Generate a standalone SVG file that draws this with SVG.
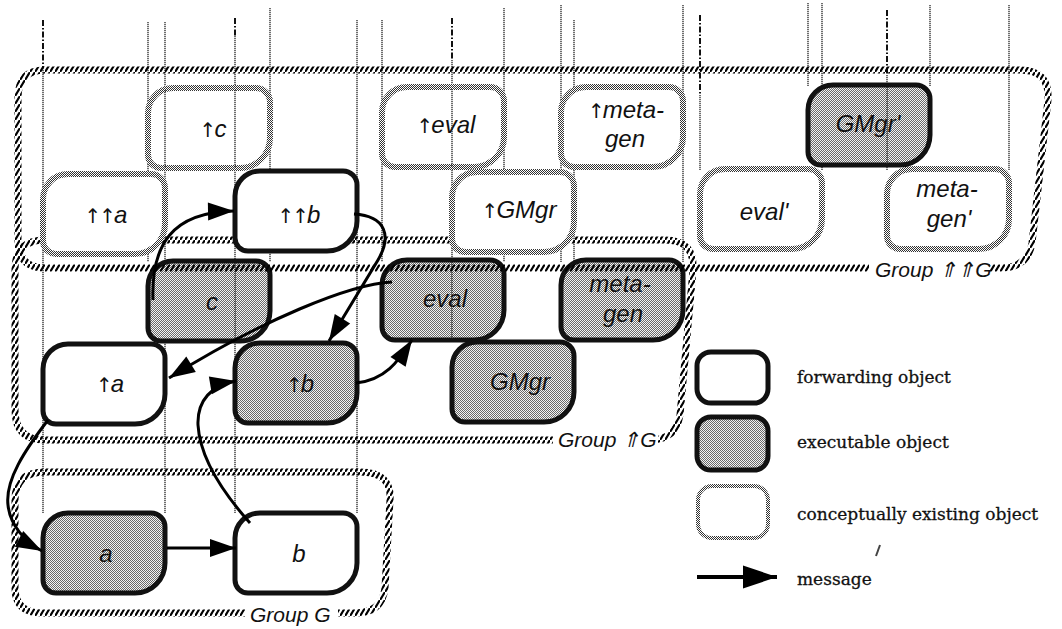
<svg xmlns="http://www.w3.org/2000/svg" xmlns:xlink="http://www.w3.org/1999/xlink" width="1062" height="629" viewBox="0 0 1062 629">
<style>
.life{fill:none;stroke:#222;stroke-width:1.3;stroke-dasharray:1.2 0.8}
.lifetop{fill:none;stroke:#111;stroke-width:2;stroke-dasharray:6 2 1.5 2}
.fwd{fill:#fff;stroke:#111;stroke-width:5}
.exe{fill:url(#dots);stroke:#111;stroke-width:5}
.con{fill:#fff;stroke:url(#cdots);stroke-width:6}
.grp{fill:none;stroke:url(#hatch);stroke-width:7}
.lbl{font-family:"Liberation Sans",Arial,sans-serif;font-style:italic;font-size:24px;text-anchor:middle;fill:#111}
.arw{font-family:"DejaVu Sans",sans-serif;font-style:normal;font-size:20px;letter-spacing:-2px}
.glbl{font-family:"Liberation Sans",Arial,sans-serif;font-style:italic;font-size:21px;fill:#111}
.leg{font-family:"DejaVu Serif","Liberation Serif",serif;font-size:17px;fill:#111;stroke:#111;stroke-width:0.3}
.msg{fill:none;stroke:#000;stroke-width:3;marker-end:url(#arr)}
</style>
<defs>
<pattern id="dots" width="2" height="2" patternUnits="userSpaceOnUse"><rect width="2" height="2" fill="#f4f4f4"/><rect width="1" height="1" fill="#6a6a6a"/><rect x="1" y="1" width="1" height="1" fill="#6a6a6a"/></pattern>
<pattern id="cdots" width="2" height="2" patternUnits="userSpaceOnUse"><rect width="2" height="2" fill="#fff"/><rect width="1" height="1" fill="#333"/><rect x="1" y="1" width="1" height="1" fill="#333"/></pattern>
<pattern id="hatch" width="5" height="8" patternUnits="userSpaceOnUse"><path d="M-1,9.6 L6,-1.6" stroke="#000" stroke-width="2.2"/></pattern>
<path id="nshape" d="M25,0 H108 A14,14 0 0 1 122,14 V50 A30,30 0 0 1 92,80 H13 A13,13 0 0 1 0,67 V25 A25,25 0 0 1 25,0 Z"/>
<marker id="arr" markerUnits="userSpaceOnUse" markerWidth="28" markerHeight="20" refX="26" refY="9" orient="auto" overflow="visible"><path d="M0,0 L26,9 L0,18 Z" fill="#000"/></marker>
<marker id="arrbig" markerUnits="userSpaceOnUse" markerWidth="36" markerHeight="24" refX="34" refY="11.5" orient="auto" overflow="visible"><path d="M0,0 L34,11.5 L0,23 Z" fill="#000"/></marker>
</defs>

<g id="lifelines">
<path class="lifetop" d="M43,20 V68"/>
<path class="life" d="M43,68 V513 M165,22 V513"/>
<path class="life" d="M148,22 V262 M270,8 V262"/>
<path class="lifetop" d="M235,18 V36"/>
<path class="life" d="M235,36 V513 M357,20 V513"/>
<path class="life" d="M382,20 V262 M504,8 V262"/>
<path class="lifetop" d="M452,18 V60"/>
<path class="life" d="M452,60 V342 M574,20 V342"/>
<path class="life" d="M561,5 V262 M683,5 V262"/>
<path class="lifetop" d="M700,15 V95"/>
<path class="life" d="M700,95 V170 M822,3 V170"/>
<path class="life" d="M808,3 V86 M930,5 V86"/>
<path class="lifetop" d="M887,10 V75"/>
<path class="life" d="M887,75 V170 M1009,5 V170"/>
</g>

<g id="group-upG">
<path class="grp" d="M45,240 H665 Q695,240 693,270 L680,415 Q676,440 650,440 H45 Q15,440 15,410 V270 Q15,240 45,240 Z"/>
</g>
<g id="group-G">
<path class="grp" d="M45,472 H360 Q392,472 390,500 L385,588 Q382,613 355,613 H42 Q15,613 15,588 V500 Q15,472 45,472 Z"/>
</g>

<g id="node-uua"><use href="#nshape" x="43" y="174" class="con"/><text class="lbl" x="106" y="223"><tspan class="arw">↑↑</tspan>a</text></g>
<g id="node-uc"><use href="#nshape" x="148" y="88" class="con"/><text class="lbl" x="213" y="137"><tspan class="arw">↑</tspan>c</text></g>
<g id="node-ueval"><use href="#nshape" x="382" y="87" class="con"/><text class="lbl" x="446" y="133"><tspan class="arw">↑</tspan>eval</text></g>
<g id="node-umetagen"><use href="#nshape" x="561" y="87" class="con"/><text class="lbl" x="626" y="118"><tspan class="arw">↑</tspan>meta-</text><text class="lbl" x="625" y="147">gen</text></g>
<g id="node-uGMgr"><use href="#nshape" x="452" y="172" class="con"/><text class="lbl" x="519" y="218"><tspan class="arw">↑</tspan>GMgr</text></g>
<g id="node-evalp"><use href="#nshape" x="700" y="169" class="con"/><text class="lbl" x="764" y="220">eval'</text></g>
<g id="node-metagenp"><use href="#nshape" x="887" y="169" class="con"/><text class="lbl" x="947" y="197">meta-</text><text class="lbl" x="949" y="227">gen'</text></g>
<g id="node-GMgrp"><use href="#nshape" x="808" y="85" class="exe"/><text class="lbl" x="868" y="132">GMgr'</text></g>
<g id="node-uub"><use href="#nshape" x="235" y="171" class="fwd"/><text class="lbl" x="299" y="223"><tspan class="arw">↑↑</tspan>b</text></g>
<g id="node-c"><use href="#nshape" x="148" y="261" class="exe"/><text class="lbl" x="212" y="310">c</text></g>
<g id="node-eval"><use href="#nshape" x="382" y="260" class="exe"/><text class="lbl" x="445" y="307">eval</text></g>
<g id="node-metagen"><use href="#nshape" x="561" y="260" class="exe"/><text class="lbl" x="620" y="292">meta-</text><text class="lbl" x="623" y="322">gen</text></g>
<g id="node-GMgr"><use href="#nshape" x="452" y="342" class="exe"/><text class="lbl" x="520" y="390">GMgr</text></g>
<g id="node-ua"><use href="#nshape" x="43" y="344" class="fwd"/><text class="lbl" x="110" y="392"><tspan class="arw">↑</tspan>a</text></g>
<g id="node-ub"><use href="#nshape" x="235" y="343" class="exe"/><text class="lbl" x="300" y="392"><tspan class="arw">↑</tspan>b</text></g>
<g id="node-a"><use href="#nshape" x="43" y="513" class="exe"/><text class="lbl" x="106" y="562">a</text></g>
<g id="node-b"><use href="#nshape" x="235" y="513" class="fwd"/><text class="lbl" x="299" y="562">b</text></g>

<g id="lifeline-overlays">
<path class="life" d="M235,90 V168 M235,263 V341 M165,90 V168"/>
<path class="life" d="M452,89 V167 M452,262 V340"/>
<path class="life" d="M887,87 V165"/>
</g>

<g id="group-uuG">
<path class="grp" d="M45,70 H1020 Q1050,70 1048,100 L1032,243 Q1028,268 1000,268 H45 Q18,268 18,240 V98 Q18,70 45,70 Z"/>
</g>

<g id="group-labels">
<rect x="869" y="258" width="120" height="24" fill="#fff"/>
<text class="glbl" x="875" y="277">Group ⇑⇑G</text>
<rect x="553" y="428" width="105" height="24" fill="#fff"/>
<text class="glbl" x="558" y="447">Group ⇑G</text>
<rect x="245" y="602" width="93" height="24" fill="#fff"/>
<text class="glbl" x="250" y="622">Group G</text>
</g>

<g id="connectors">
<path class="msg" d="M153,300 C151,245 172,212 234,211"/>
<path class="msg" d="M354,214 C386,216 392,236 378,260 L329,341"/>
<path class="msg" d="M392,282 C350,284 262,320 169,378"/>
<path class="msg" d="M356,383 C385,380 398,362 412,340"/>
<path class="msg" d="M48,420 C25,450 5,480 8,505 C10,525 25,542 42,551"/>
<path class="msg" d="M250,523 C225,495 200,460 198,425 C197,400 212,385 236,381"/>
<path class="msg" d="M167,548 L236,548"/>
</g>

<g id="legend">
<rect x="697" y="352" width="71" height="51" rx="14" class="fwd"/>
<text class="leg" x="797" y="383">forwarding object</text>
<rect x="697" y="417" width="71" height="53" rx="14" class="exe"/>
<text class="leg" x="797" y="448">executable object</text>
<rect x="698" y="486" width="70" height="52" rx="14" class="con" style="stroke-width:4"/>
<text class="leg" x="797" y="520">conceptually existing object</text>
<path d="M697,577 H777" fill="none" stroke="#000" stroke-width="4" marker-end="url(#arrbig)"/>
<text class="leg" x="797" y="585">message</text>
<path d="M876,556 L880,545" stroke="#444" stroke-width="2"/>
</g>
</svg>
